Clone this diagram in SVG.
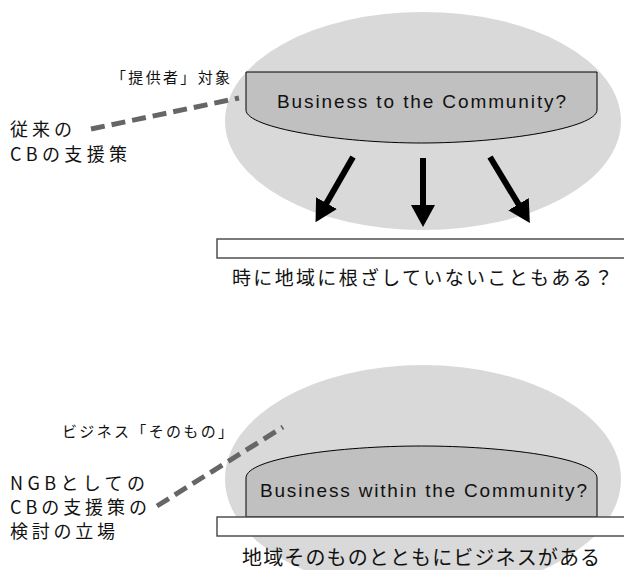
<svg xmlns="http://www.w3.org/2000/svg" width="624" height="570" viewBox="0 0 624 570">
<style>
.bg{fill:#ffffff}
.ell{fill:#d9d9d9}
.shape{fill:#c0c0c0;stroke:#000;stroke-width:1}
.bar{fill:#ffffff;stroke:#444;stroke-width:1.4}
.lead{fill:none;stroke:#666;stroke-width:5;stroke-dasharray:14 7}
.arrow{fill:none;stroke:#000;stroke-width:6}
.t{font-family:"Liberation Sans","Noto Sans CJK JP",sans-serif;fill:#111}
.jp{font-family:"Noto Sans CJK JP","Noto Sans CJK SC",sans-serif;fill:#111}
</style>
<defs>
<marker id="ah" markerUnits="userSpaceOnUse" viewBox="0 0 22 24" refX="1" refY="12" markerWidth="22" markerHeight="24" orient="auto">
<path d="M0,0 L22,12 L0,24 Z" fill="#000"/>
</marker>
</defs>
<rect class="bg" x="0" y="0" width="624" height="570"/>

<g id="top-ellipse"><ellipse class="ell" cx="423" cy="121" rx="198" ry="109"/></g>
<g id="bottom-ellipse"><ellipse class="ell" cx="423" cy="479" rx="198" ry="114"/></g>

<g id="node-business-to">
<path class="shape" d="M246,72 H597 V110 C597,128 503,143 421.5,143 C340,143 246,128 246,110 Z"/>
<text class="t" x="277" y="108" font-size="19" textLength="289" lengthAdjust="spacing">Business to the Community?</text>
</g>

<g id="node-top-bar">
<rect class="bar" x="217" y="239" width="420" height="19"/>
</g>
<g id="label-top-question">
<text class="jp" x="232" y="285" font-size="19" textLength="381" lengthAdjust="spacing">時に地域に根ざしていないこともある？</text>
</g>

<g id="label-provider">
<text class="jp" x="111" y="83" font-size="15" textLength="119" lengthAdjust="spacing">「提供者」対象</text>
</g>
<g id="label-conventional">
<text class="jp" x="10" y="136" font-size="18" textLength="62" lengthAdjust="spacing">従来の</text>
<text class="jp" x="10" y="161" font-size="18" textLength="117" lengthAdjust="spacing">CBの支援策</text>
</g>

<g id="node-business-within">
<path class="shape" d="M246,517 V478 C246,458 340,446 421.5,446 C503,446 597,458 597,478 V517 Z"/>
<text class="t" x="260" y="497" font-size="19" textLength="327" lengthAdjust="spacing">Business within the Community?</text>
</g>
<g id="node-bottom-bar">
<rect class="bar" x="217" y="517" width="420" height="19"/>
</g>
<g id="label-bottom-statement">
<text class="jp" x="242" y="565" font-size="20" textLength="358" lengthAdjust="spacing">地域そのものとともにビジネスがある</text>
</g>

<g id="label-business-itself">
<text class="jp" x="62" y="437" font-size="15" textLength="171" lengthAdjust="spacing">ビジネス「そのもの」</text>
</g>
<g id="label-ngb">
<text class="jp" x="10" y="490" font-size="18" textLength="135" lengthAdjust="spacing">NGBとしての</text>
<text class="jp" x="10" y="514" font-size="18" textLength="137" lengthAdjust="spacing">CBの支援策の</text>
<text class="jp" x="10" y="538" font-size="18" textLength="105" lengthAdjust="spacing">検討の立場</text>
</g>

<g id="connectors">
<line class="lead" x1="91" y1="129" x2="239" y2="98"/>
<line class="lead" x1="157" y1="506" x2="283" y2="427"/>
<line class="arrow" x1="353" y1="157" x2="326" y2="204" marker-end="url(#ah)"/>
<line class="arrow" x1="423" y1="158" x2="423" y2="206" marker-end="url(#ah)"/>
<line class="arrow" x1="490" y1="157" x2="519" y2="205" marker-end="url(#ah)"/>
</g>
</svg>
